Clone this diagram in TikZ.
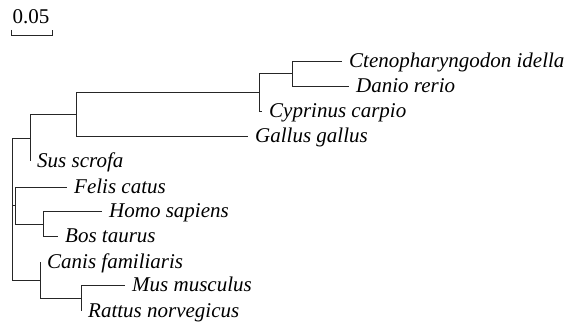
\documentclass[tikz,border=0pt]{standalone}
\usepackage{fontspec}
\setmainfont{Liberation Serif}
\usepackage{tikz}

\begin{document}
\begin{tikzpicture}[
  x=1pt, y=-1pt,
  br/.style={line width=0.9pt, black!85},
  tip/.style={anchor=west, inner xsep=7pt, inner ysep=0pt,
              font=\fontsize{21}{25}\selectfont\itshape,
              text height=17pt, text depth=4pt},
  lab/.style={font=\fontsize{21}{25}\selectfont, inner sep=0pt, anchor=base}
]
\fill[white] (0,0) rectangle (574,323);
\useasboundingbox (0,0) rectangle (574,323);

\coordinate (sb0) at (11,35);
\coordinate (sb1) at (52,35);
\node[lab] (sbl) at (31,24) {0.05};
\draw[br] ([yshift=5pt]sb0) -- (sb0) -- (sb1) -- ([yshift=5pt]sb1);

\coordinate (root) at (12,208);
\coordinate (X) at (30,138);
\coordinate (Y) at (76,114);
\coordinate (F) at (259,92);
\coordinate (CD) at (292,73);
\coordinate (Z) at (15,205);
\coordinate (HB) at (43,224);
\coordinate (W) at (40,280);
\coordinate (MR) at (81,298);

\node[tip] (cte) at (342,61) {Ctenopharyngodon idella};
\node[tip] (dan) at (349,86) {Danio rerio};
\node[tip] (cyp) at (262,111) {Cyprinus carpio};
\node[tip] (gal) at (248,136) {Gallus gallus};
\node[tip] (sus) at (30,161) {Sus scrofa};
\node[tip] (fel) at (67,187) {Felis catus};
\node[tip] (hom) at (102,211) {Homo sapiens};
\node[tip] (bos) at (58,236) {Bos taurus};
\node[tip] (can) at (40,262) {Canis familiaris};
\node[tip] (mus) at (125,285) {Mus musculus};
\node[tip] (rat) at (81,311) {Rattus norvegicus};

\draw[br] (root) |- (X);
\draw[br] (root) |- (Z);
\draw[br] (root) |- (W);
\draw[br] (X) |- (Y);
\draw[br] (X) |- (sus.west);
\draw[br] (Y) |- (F);
\draw[br] (Y) |- (gal.west);
\draw[br] (F) |- (CD);
\draw[br] (F) |- (cyp.west);
\draw[br] (CD) |- (cte.west);
\draw[br] (CD) |- (dan.west);
\draw[br] (Z) |- (fel.west);
\draw[br] (Z) |- (HB);
\draw[br] (HB) |- (hom.west);
\draw[br] (HB) |- (bos.west);
\draw[br] (W) |- (can.west);
\draw[br] (W) |- (MR);
\draw[br] (MR) |- (mus.west);
\draw[br] (MR) |- (rat.west);
\end{tikzpicture}
\end{document}
